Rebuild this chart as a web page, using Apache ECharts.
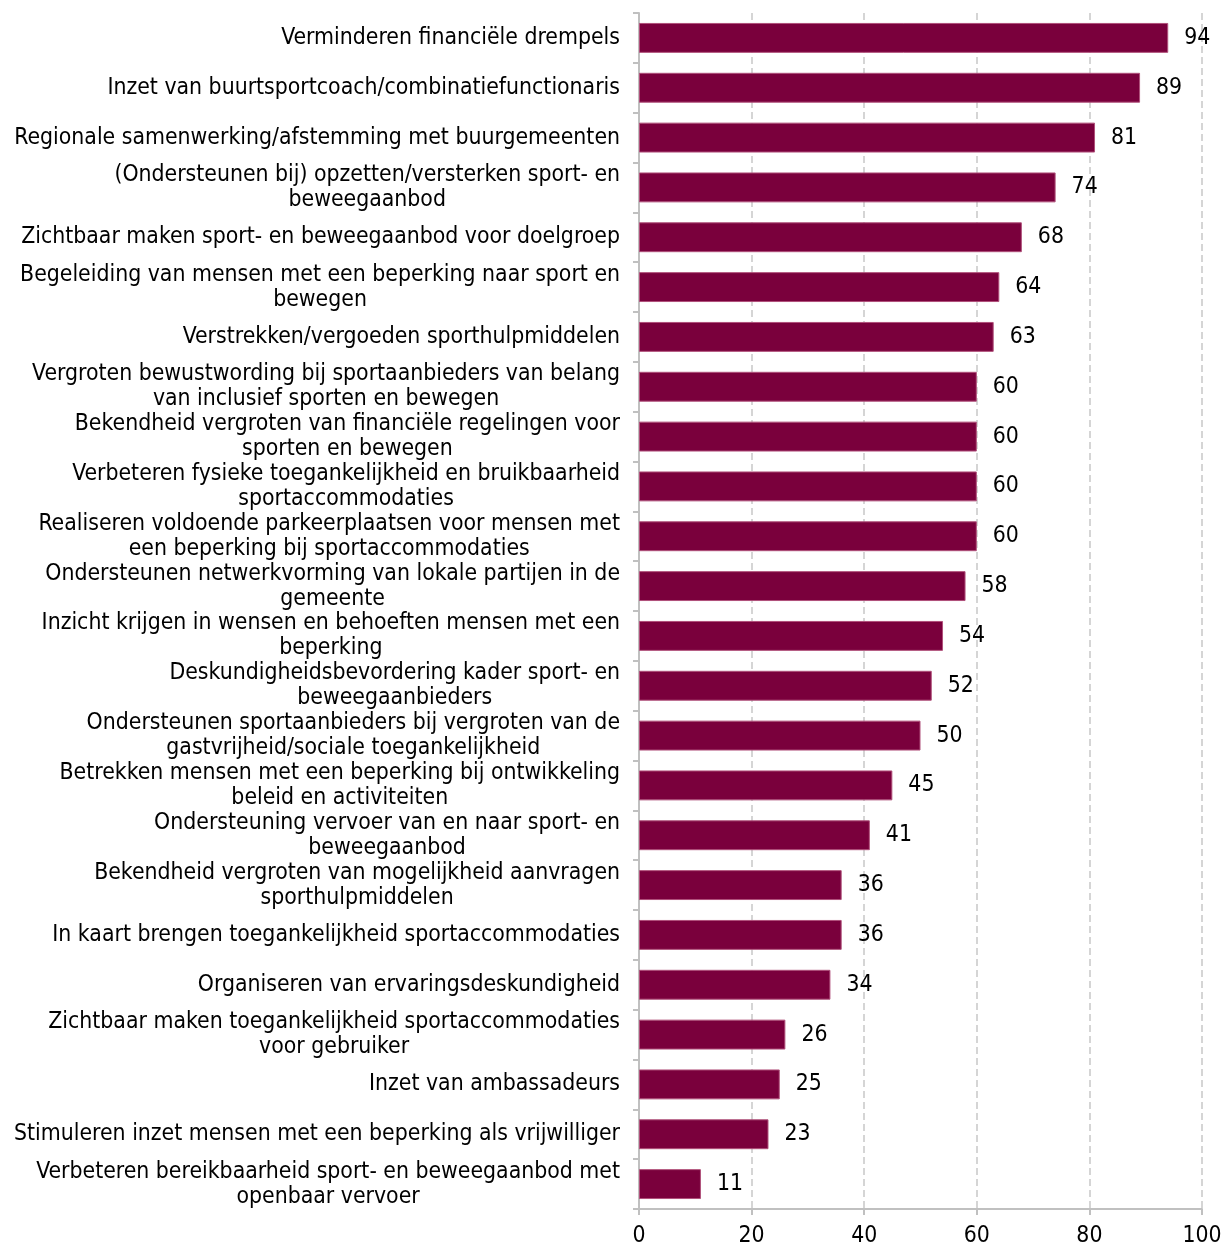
<!DOCTYPE html>
<html>
<head>
<meta charset="utf-8">
<script src="https://cdn.jsdelivr.net/npm/echarts@6/dist/echarts.min.js"></script>
<style>html,body{margin:0;padding:0;background:#fff}#c{width:1225px;height:1248px}</style>
</head>
<body>
<div id="c"></div>
<script>
const categories = [
  "Verminderen financiële drempels",
  "Inzet van buurtsportcoach/combinatiefunctionaris",
  "Regionale samenwerking/afstemming met buurgemeenten",
  "(Ondersteunen bij) opzetten/versterken sport- en\nbeweegaanbod",
  "Zichtbaar maken sport- en beweegaanbod voor doelgroep",
  "Begeleiding van mensen met een beperking naar sport en\nbewegen",
  "Verstrekken/vergoeden sporthulpmiddelen",
  "Vergroten bewustwording bij sportaanbieders van belang\nvan inclusief sporten en bewegen",
  "Bekendheid vergroten van financiële regelingen voor\nsporten en bewegen",
  "Verbeteren fysieke toegankelijkheid en bruikbaarheid\nsportaccommodaties",
  "Realiseren voldoende parkeerplaatsen voor mensen met\neen beperking bij sportaccommodaties",
  "Ondersteunen netwerkvorming van lokale partijen in de\ngemeente",
  "Inzicht krijgen in wensen en behoeften mensen met een\nbeperking",
  "Deskundigheidsbevordering kader sport- en\nbeweegaanbieders",
  "Ondersteunen sportaanbieders bij vergroten van de\ngastvrijheid/sociale toegankelijkheid",
  "Betrekken mensen met een beperking bij ontwikkeling\nbeleid en activiteiten",
  "Ondersteuning vervoer van en naar sport- en\nbeweegaanbod",
  "Bekendheid vergroten van mogelijkheid aanvragen\nsporthulpmiddelen",
  "In kaart brengen toegankelijkheid sportaccommodaties",
  "Organiseren van ervaringsdeskundigheid",
  "Zichtbaar maken toegankelijkheid sportaccommodaties\nvoor gebruiker",
  "Inzet van ambassadeurs",
  "Stimuleren inzet mensen met een beperking als vrijwilliger",
  "Verbeteren bereikbaarheid sport- en beweegaanbod met\nopenbaar vervoer"
];
const values = [94, 89, 81, 74, 68, 64, 63, 60, 60, 60, 60, 58, 54, 52, 50, 45, 41, 36, 36, 34, 26, 25, 23, 11];
const xTicks = [0, 20, 40, 60, 80, 100];

const FONT = "'DejaVu Sans Condensed', 'DejaVu Sans'";
const FS = 22.8;
const chart = echarts.init(document.getElementById('c'), null, {renderer: 'canvas'});
chart.setOption({
  animation: false,
  backgroundColor: '#fff',
  grid: {left: 639, right: 23, top: 13, bottom: 38, containLabel: false},
  xAxis: {
    type: 'value', min: xTicks[0], max: xTicks[xTicks.length - 1], interval: 20,
    axisLine: {show: true, lineStyle: {color: '#c0c0c0', width: 2}},
    axisTick: {show: true, length: 6, lineStyle: {color: '#c0c0c0', width: 2}},
    axisLabel: {color: '#000', fontSize: FS, fontFamily: FONT, margin: 16},
    splitLine: {show: true, lineStyle: {color: '#c8c8c8', type: [7, 4], width: 1.5}}
  },
  yAxis: {
    type: 'category', data: categories, inverse: true,
    axisLine: {show: true, lineStyle: {color: '#c0c0c0', width: 2}},
    axisTick: {show: true, length: 6, lineStyle: {color: '#c0c0c0', width: 2}},
    axisLabel: {
      color: '#000', fontSize: FS, fontFamily: FONT, margin: 19, lineHeight: 25,
      formatter: function (v) {
        return v.split('\n').map(function (l) { return '{c|' + l + '}'; }).join('\n');
      },
      rich: {c: {align: 'center', color: '#000', fontSize: FS, fontFamily: FONT, lineHeight: 25}}
    }
  },
  series: [{
    type: 'bar', data: values, barCategoryGap: '40%',
    itemStyle: {color: '#7a003c', borderColor: '#b0507a', borderWidth: 1},
    label: {show: true, position: 'right', distance: 16, color: '#000', fontSize: FS, fontFamily: FONT}
  }]
});
</script>
</body>
</html>
